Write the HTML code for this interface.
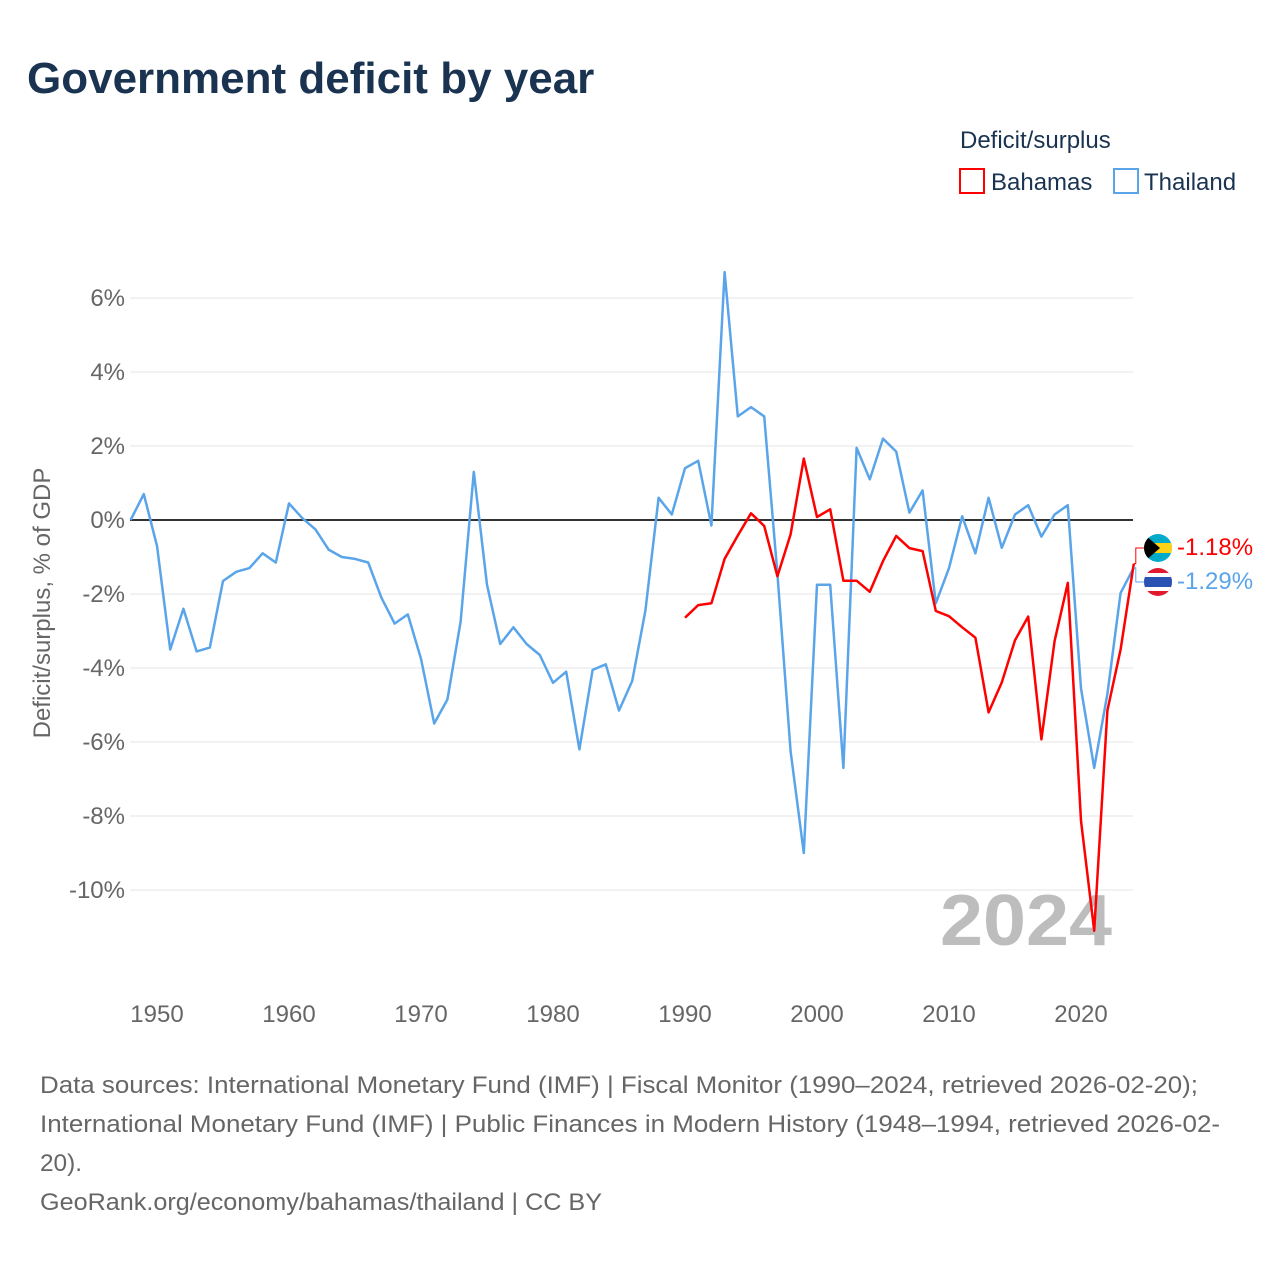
<!DOCTYPE html>
<html><head><meta charset="utf-8"><style>
body{margin:0;background:#fff;font-family:"Liberation Sans",sans-serif}
</style></head><body>
<svg width="1280" height="1280" viewBox="0 0 1280 1280" xmlns="http://www.w3.org/2000/svg" font-family="Liberation Sans, sans-serif">
<text x="27" y="93" font-size="44" font-weight="bold" fill="#1a3350">Government deficit by year</text>
<text x="960" y="148" font-size="24" fill="#1a3350">Deficit/surplus</text>
<g><rect x="960" y="169" width="24" height="24" fill="none" stroke="#f00" stroke-width="2"/><text x="991" y="190" font-size="24" fill="#1a3350">Bahamas</text></g>
<g><rect x="1114" y="169" width="24" height="24" fill="none" stroke="#5aa5ea" stroke-width="2"/><text x="1144" y="190" font-size="24" fill="#1a3350">Thailand</text></g>
<g id="grid"></g>
<text x="940" y="945" font-size="72" font-weight="bold" fill="#bdbdbd" textLength="172" lengthAdjust="spacingAndGlyphs">2024</text>
<g id="series"></g>
<text transform="translate(50,603) rotate(-90)" font-size="24" fill="#666" text-anchor="middle">Deficit/surplus, % of GDP</text>
<g><clipPath id="cb"><circle cx="1158" cy="548" r="14"/></clipPath><g clip-path="url(#cb)"><rect x="1144" y="534" width="28" height="28" fill="#00abc9"/><rect x="1144" y="543" width="28" height="10" fill="#fcd116"/><polygon points="1144,534 1160,548 1144,562" fill="#000"/></g></g>
<g><clipPath id="ct"><circle cx="1158" cy="582" r="14"/></clipPath><g clip-path="url(#ct)"><rect x="1144" y="568" width="28" height="28" fill="#e0192f"/><rect x="1144" y="573" width="28" height="18" fill="#fff"/><rect x="1144" y="577" width="28" height="10" fill="#2952b3"/></g></g>
<text x="1177" y="555" font-size="24" fill="#f00">-1.18%</text>
<text x="1177" y="589" font-size="24" fill="#5aa5ea">-1.29%</text>
<g font-size="24" fill="#666">
<text x="40" y="1093" textLength="1158" lengthAdjust="spacingAndGlyphs">Data sources: International Monetary Fund (IMF) | Fiscal Monitor (1990–2024, retrieved 2026-02-20);</text>
<text x="40" y="1132" textLength="1180" lengthAdjust="spacingAndGlyphs">International Monetary Fund (IMF) | Public Finances in Modern History (1948–1994, retrieved 2026-02-</text>
<text x="40" y="1171" textLength="42" lengthAdjust="spacingAndGlyphs">20).</text>
<text x="40" y="1210" textLength="562" lengthAdjust="spacingAndGlyphs">GeoRank.org/economy/bahamas/thailand | CC BY</text>
</g>
</svg>
<script>
const yTicks=[6,4,2,0,-2,-4,-6,-8,-10];
const xTicks=[1950,1960,1970,1980,1990,2000,2010,2020];
const thYears0=1948;
const thailand=[0.0,0.7,-0.7,-3.5,-2.4,-3.55,-3.45,-1.65,-1.4,-1.3,-0.9,-1.15,0.45,0.05,-0.25,-0.8,-1.0,-1.05,-1.15,-2.1,-2.8,-2.55,-3.75,-5.5,-4.85,-2.75,1.3,-1.75,-3.35,-2.9,-3.35,-3.65,-4.4,-4.1,-6.2,-4.05,-3.9,-5.15,-4.35,-2.45,0.6,0.15,1.4,1.6,-0.15,6.7,2.8,3.05,2.8,-1.45,-6.25,-9.0,-1.75,-1.75,-6.7,1.95,1.1,2.2,1.85,0.2,0.8,-2.25,-1.3,0.1,-0.9,0.6,-0.75,0.15,0.4,-0.45,0.15,0.4,-4.55,-6.7,-4.7,-1.97,-1.29];
const bhYears0=1990;
const bahamas=[-2.64,-2.3,-2.25,-1.05,-0.42,0.18,-0.16,-1.52,-0.39,1.66,0.08,0.29,-1.64,-1.64,-1.94,-1.11,-0.43,-0.76,-0.84,-2.46,-2.6,-2.9,-3.18,-5.2,-4.39,-3.25,-2.61,-5.93,-3.27,-1.7,-8.13,-11.1,-5.15,-3.5,-1.18];
const NS='http://www.w3.org/2000/svg';
const X=yr=>130.6+13.2*(yr-1948);
const Y=v=>520-v*37;
function mk(t,a,p){const e=document.createElementNS(NS,t);for(const k in a)e.setAttribute(k,a[k]);p.appendChild(e);return e;}
const g=document.getElementById('grid');
yTicks.forEach(v=>{
 const l=mk('line',{x1:130,x2:1133,y1:Y(v),y2:Y(v),stroke:v===0?'#333':'#e6e6e6','stroke-width':v===0?2:1},g);
 
 
 const t=mk('text',{x:125,y:Y(v)+8,'font-size':24,fill:'#666','text-anchor':'end'},g);
 t.textContent=v+'%';
 
 
});
xTicks.forEach(yr=>{
 const t=mk('text',{x:X(yr),y:1022,'font-size':24,fill:'#666','text-anchor':'middle'},g);
 t.textContent=yr;
 
 
});
const s=document.getElementById('series');
function line(arr,y0,color,name){
 const pts=arr.map((v,i)=>X(y0+i).toFixed(1)+','+Y(v).toFixed(1)).join(' ');
 const p=mk('polyline',{points:pts,fill:'none',stroke:color,'stroke-width':2.5,'stroke-linejoin':'round'},s);
 
 
}
line(thailand,thYears0,'#5aa5ea','line-thailand');
line(bahamas,bhYears0,'#f00','line-bahamas');
const xe=X(2024);
const c1=mk('polyline',{points:`${xe},${Y(bahamas[bahamas.length-1])} ${xe+2},${Y(bahamas[bahamas.length-1])} ${xe+2},548 1144,548`,fill:'none',stroke:'#f00','stroke-width':1},s);


const c2=mk('polyline',{points:`${xe},${Y(thailand[thailand.length-1])} ${xe+2},${Y(thailand[thailand.length-1])} ${xe+2},582 1144,582`,fill:'none',stroke:'#5aa5ea','stroke-width':1},s);


</script>
</body></html>
